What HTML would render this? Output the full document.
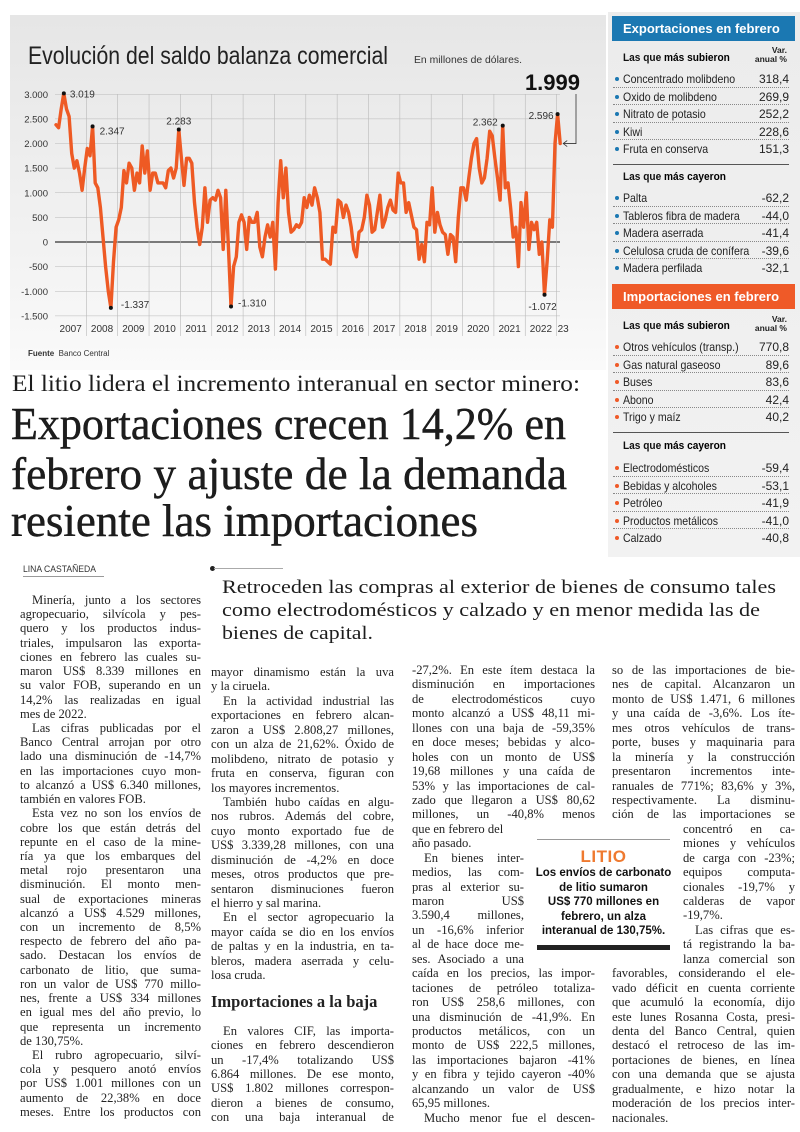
<!DOCTYPE html>
<html lang="es"><head><meta charset="utf-8">
<style>
*{margin:0;padding:0;box-sizing:border-box}
body{width:800px;height:1132px;background:#fff;position:relative;overflow:hidden;font-family:"Liberation Serif",serif;color:#1d1d1d}
.abs{position:absolute;white-space:nowrap}
.fit{display:inline-block;transform-origin:0 50%}
#chartbg{position:absolute;left:10px;top:15px;width:596px;height:355px;background:linear-gradient(#e6e6e6,#f3f3f3 70%,#fafafa)}
#side{position:absolute;left:608px;top:12px;width:192px;height:545px;background:linear-gradient(#ececec,#f2f2f2)}
.sans{font-family:"Liberation Sans Narrow","Liberation Sans",sans-serif}
.hdr{position:absolute;left:612px;width:183px;height:25px;color:#fff;font:bold 13px "Liberation Sans",sans-serif;padding:5px 0 0 11px}
.sub{position:absolute;left:623px;font:bold 11px "Liberation Sans",sans-serif;color:#111;transform:scaleX(.92);transform-origin:0 50%}
.sub b{font-weight:bold;color:#000}
.var{position:absolute;left:750px;width:37px;text-align:right;font:bold 8.5px/9px "Liberation Sans Narrow","Liberation Sans",sans-serif;color:#222}
.list{position:absolute;left:613px;width:176px;height:88px}
.row{position:absolute;left:0;width:176px;height:17.5px;border-bottom:1px dotted #888;font:12px "Liberation Sans Narrow","Liberation Sans",sans-serif;color:#222}
.row .n{position:absolute;left:10px;top:2px;transform:scaleX(.88);transform-origin:0 50%;white-space:nowrap}
.row .v{position:absolute;right:0;top:2px}
.row .b{position:absolute;left:2px;top:7px;width:4px;height:4px;border-radius:50%}
.row.last{border-bottom:none}
.col{position:absolute;font-size:12.6px;color:#222}
.l{text-align:justify;text-align-last:justify;white-space:normal;overflow:hidden}
.l.e{text-align-last:left}
.l.i{text-indent:12px}
.hl{-webkit-text-stroke:0.4px #111}
</style></head><body>

<div id="chartbg"></div>
<div id="side"></div>

<svg id="chart" width="610" height="370" style="position:absolute;left:0;top:0"></svg>

<div class="abs sans" style="left:28px;top:42px;font-size:25px;color:#222"><span class="fit" data-fit="360">Evolución del saldo balanza comercial</span></div>
<div class="abs sans" style="left:414px;top:54px;font-size:10.5px;color:#333"><span class="fit" data-fit="108">En millones de dólares.</span></div>
<div class="abs" style="left:28px;top:349px;font:8px 'Liberation Sans Narrow','Liberation Sans',sans-serif;color:#333"><b>Fuente</b>&nbsp; Banco Central</div>

<!-- Sidebar -->
<div class="hdr" style="top:16px;background:#1b78b2">Exportaciones en febrero</div>
<div class="sub" style="top:52px">Las que <b>más subieron</b></div>
<div class="var" style="top:46px">Var.<br>anual %</div>
<div style="position:absolute;left:613px;top:164px;width:176px;height:1px;background:#555"></div>
<div class="sub" style="top:171px">Las que <b>más cayeron</b></div>
<div class="hdr" style="top:284px;background:#ef5a28">Importaciones en febrero</div>
<div class="sub" style="top:320px">Las que <b>más subieron</b></div>
<div class="var" style="top:315px">Var.<br>anual %</div>
<div style="position:absolute;left:613px;top:432px;width:176px;height:1px;background:#555"></div>
<div class="sub" style="top:440px">Las que <b>más cayeron</b></div>

<div class="list" style="top:70px">
<div class="row" style="top:0"><span class="b" style="background:#1b78b2"></span><span class="n">Concentrado molibdeno</span><span class="v">318,4</span></div>
<div class="row" style="top:17.5px"><span class="b" style="background:#1b78b2"></span><span class="n">Oxido de molibdeno</span><span class="v">269,9</span></div>
<div class="row" style="top:35px"><span class="b" style="background:#1b78b2"></span><span class="n">Nitrato de potasio</span><span class="v">252,2</span></div>
<div class="row" style="top:52.5px"><span class="b" style="background:#1b78b2"></span><span class="n">Kiwi</span><span class="v">228,6</span></div>
<div class="row last" style="top:70px"><span class="b" style="background:#1b78b2"></span><span class="n">Fruta en conserva</span><span class="v">151,3</span></div>
</div>
<div class="list" style="top:189px">
<div class="row" style="top:0"><span class="b" style="background:#1b78b2"></span><span class="n">Palta</span><span class="v">-62,2</span></div>
<div class="row" style="top:17.5px"><span class="b" style="background:#1b78b2"></span><span class="n">Tableros fibra de madera</span><span class="v">-44,0</span></div>
<div class="row" style="top:35px"><span class="b" style="background:#1b78b2"></span><span class="n">Madera aserrada</span><span class="v">-41,4</span></div>
<div class="row" style="top:52.5px"><span class="b" style="background:#1b78b2"></span><span class="n">Celulosa cruda de conífera</span><span class="v">-39,6</span></div>
<div class="row last" style="top:70px"><span class="b" style="background:#1b78b2"></span><span class="n">Madera perfilada</span><span class="v">-32,1</span></div>
</div>
<div class="list" style="top:338px">
<div class="row" style="top:0"><span class="b" style="background:#ef5a28"></span><span class="n">Otros vehículos (transp.)</span><span class="v">770,8</span></div>
<div class="row" style="top:17.5px"><span class="b" style="background:#ef5a28"></span><span class="n">Gas natural gaseoso</span><span class="v">89,6</span></div>
<div class="row" style="top:35px"><span class="b" style="background:#ef5a28"></span><span class="n">Buses</span><span class="v">83,6</span></div>
<div class="row" style="top:52.5px"><span class="b" style="background:#ef5a28"></span><span class="n">Abono</span><span class="v">42,4</span></div>
<div class="row last" style="top:70px"><span class="b" style="background:#ef5a28"></span><span class="n">Trigo y maíz</span><span class="v">40,2</span></div>
</div>
<div class="list" style="top:459px">
<div class="row" style="top:0"><span class="b" style="background:#ef5a28"></span><span class="n">Electrodomésticos</span><span class="v">-59,4</span></div>
<div class="row" style="top:17.5px"><span class="b" style="background:#ef5a28"></span><span class="n">Bebidas y alcoholes</span><span class="v">-53,1</span></div>
<div class="row" style="top:35px"><span class="b" style="background:#ef5a28"></span><span class="n">Petróleo</span><span class="v">-41,9</span></div>
<div class="row" style="top:52.5px"><span class="b" style="background:#ef5a28"></span><span class="n">Productos metálicos</span><span class="v">-41,0</span></div>
<div class="row last" style="top:70px"><span class="b" style="background:#ef5a28"></span><span class="n">Calzado</span><span class="v">-40,8</span></div>
</div>

<!-- Headlines -->
<div class="abs" style="left:12px;top:371px;font-size:23px;line-height:26px"><span class="fit" data-fit="568">El litio lidera el incremento interanual en sector minero:</span></div>
<div class="abs hl" style="left:11px;top:400px;font-size:45px;line-height:48px"><span class="fit" data-fit="555">Exportaciones crecen 14,2% en</span></div>
<div class="abs hl" style="left:11px;top:450px;font-size:45px;line-height:48px"><span class="fit" data-fit="556">febrero y ajuste de la demanda</span></div>
<div class="abs hl" style="left:11px;top:497px;font-size:45px;line-height:48px"><span class="fit" data-fit="467">resiente las importaciones</span></div>

<div class="abs sans" style="left:23px;top:564px;font-size:9.5px;color:#333;border-bottom:1px solid #999;padding-bottom:1px"><span class="fit" data-fit="73">LINA CASTAÑEDA</span></div>
<div style="position:absolute;left:210px;top:566px;width:5px;height:5px;border-radius:50%;background:#222"></div>
<div style="position:absolute;left:214px;top:568px;width:69px;height:1px;background:#aaa"></div>
<div class="abs" style="left:222px;top:576px;font-size:19px;line-height:24px"><span class="fit" data-fit="554">Retroceden las compras al exterior de bienes de consumo tales</span></div>
<div class="abs" style="left:222px;top:599px;font-size:19px;line-height:24px"><span class="fit" data-fit="538">como electrodomésticos y calzado y en menor medida las de</span></div>
<div class="abs" style="left:222px;top:622px;font-size:19px;line-height:24px"><span class="fit" data-fit="151">bienes de capital.</span></div>

<!-- Column 1 -->
<div class="col" style="left:20px;top:593px;width:181px;line-height:14.22px">
<div class="l i">Minería, junto a los sectores</div>
<div class="l">agropecuario, silvícola y pes-</div>
<div class="l">quero y los productos indus-</div>
<div class="l">triales, impulsaron las exporta-</div>
<div class="l">ciones en febrero las cuales su-</div>
<div class="l">maron US$ 8.339 millones en</div>
<div class="l">su valor FOB, superando en un</div>
<div class="l">14,2% las realizadas en igual</div>
<div class="l e">mes de 2022.</div>
<div class="l i">Las cifras publicadas por el</div>
<div class="l">Banco Central arrojan por otro</div>
<div class="l">lado una disminución de -14,7%</div>
<div class="l">en las importaciones cuyo mon-</div>
<div class="l">to alcanzó a US$ 6.340 millones,</div>
<div class="l e">también en valores FOB.</div>
<div class="l i">Esta vez no son los envíos de</div>
<div class="l">cobre los que están detrás del</div>
<div class="l">repunte en el caso de la mine-</div>
<div class="l">ría ya que los embarques del</div>
<div class="l">metal rojo presentaron una</div>
<div class="l">disminución. El monto men-</div>
<div class="l">sual de exportaciones mineras</div>
<div class="l">alcanzó a US$ 4.529 millones,</div>
<div class="l">con un incremento de 8,5%</div>
<div class="l">respecto de febrero del año pa-</div>
<div class="l">sado. Destacan los envíos de</div>
<div class="l">carbonato de litio, que suma-</div>
<div class="l">ron un valor de US$ 770 millo-</div>
<div class="l">nes, frente a US$ 334 millones</div>
<div class="l">en igual mes del año previo, lo</div>
<div class="l">que representa un incremento</div>
<div class="l e">de 130,75%.</div>
<div class="l i">El rubro agropecuario, silví-</div>
<div class="l">cola y pesquero anotó envíos</div>
<div class="l">por US$ 1.001 millones con un</div>
<div class="l">aumento de 22,38% en doce</div>
<div class="l">meses. Entre los productos con</div>
</div>

<!-- Column 2 -->
<div class="col" style="left:211px;top:665px;width:183px;line-height:14.45px">
<div class="l">mayor dinamismo están la uva</div>
<div class="l e">y la ciruela.</div>
<div class="l i">En la actividad industrial las</div>
<div class="l">exportaciones en febrero alcan-</div>
<div class="l">zaron a US$ 2.808,27 millones,</div>
<div class="l">con un alza de 21,62%. Óxido de</div>
<div class="l">molibdeno, nitrato de potasio y</div>
<div class="l">fruta en conserva, figuran con</div>
<div class="l e">los mayores incrementos.</div>
<div class="l i">También hubo caídas en algu-</div>
<div class="l">nos rubros. Además del cobre,</div>
<div class="l">cuyo monto exportado fue de</div>
<div class="l">US$ 3.339,28 millones, con una</div>
<div class="l">disminución de -4,2% en doce</div>
<div class="l">meses, otros productos que pre-</div>
<div class="l">sentaron disminuciones fueron</div>
<div class="l e">el hierro y sal marina.</div>
<div class="l i">En el sector agropecuario la</div>
<div class="l">mayor caída se dio en los envíos</div>
<div class="l">de paltas y en la industria, en ta-</div>
<div class="l">bleros, madera aserrada y celu-</div>
<div class="l e">losa cruda.</div>
<div style="font-weight:bold;font-size:16.5px;line-height:20px;margin:9px 0 12px 0">Importaciones a la baja</div>
<div class="l i">En valores CIF, las importa-</div>
<div class="l">ciones en febrero descendieron</div>
<div class="l">un -17,4% totalizando US$</div>
<div class="l">6.864 millones. De ese monto,</div>
<div class="l">US$ 1.802 millones correspon-</div>
<div class="l">dieron a bienes de consumo,</div>
<div class="l">con una baja interanual de</div>
</div>

<!-- Column 3 -->
<div class="col" style="left:412px;top:663px;width:183px;line-height:14.45px">
<div class="l">-27,2%. En este ítem destaca la</div>
<div class="l">disminución en importaciones</div>
<div class="l">de electrodomésticos cuyo</div>
<div class="l">monto alcanzó a US$ 48,11 mi-</div>
<div class="l">llones con una baja de -59,35%</div>
<div class="l">en doce meses; bebidas y alco-</div>
<div class="l">holes con un monto de US$</div>
<div class="l">19,68 millones y una caída de</div>
<div class="l">53% y las importaciones de cal-</div>
<div class="l">zado que llegaron a US$ 80,62</div>
<div class="l">millones, un -40,8% menos</div>
<div class="l e" style="width:112px">que en febrero del</div>
<div class="l e" style="width:112px">año pasado.</div>
<div class="l i" style="width:112px">En bienes inter-</div>
<div class="l" style="width:112px">medios, las com-</div>
<div class="l" style="width:112px">pras al exterior su-</div>
<div class="l" style="width:112px">maron US$</div>
<div class="l" style="width:112px">3.590,4 millones,</div>
<div class="l" style="width:112px">un -16,6% inferior</div>
<div class="l" style="width:112px">al de hace doce me-</div>
<div class="l" style="width:112px">ses. Asociado a una</div>
<div class="l">caída en los precios, las impor-</div>
<div class="l">taciones de petróleo totaliza-</div>
<div class="l">ron US$ 258,6 millones, con</div>
<div class="l">una disminución de -41,9%. En</div>
<div class="l">productos metálicos, con un</div>
<div class="l">monto de US$ 222,5 millones,</div>
<div class="l">las importaciones bajaron -41%</div>
<div class="l">y en fibra y tejido cayeron -40%</div>
<div class="l">alcanzando un valor de US$</div>
<div class="l e">65,95 millones.</div>
<div class="l i">Mucho menor fue el descen-</div>
</div>

<!-- Column 4 -->
<div class="col" style="left:612px;top:663px;width:183px;line-height:14.45px">
<div class="l">so de las importaciones de bie-</div>
<div class="l">nes de capital. Alcanzaron un</div>
<div class="l">monto de US$ 1.471, 6 millones</div>
<div class="l">y una caída de -3,6%. Los íte-</div>
<div class="l">mes otros vehículos de trans-</div>
<div class="l">porte, buses y maquinaria para</div>
<div class="l">la minería y la construcción</div>
<div class="l">presentaron incrementos inte-</div>
<div class="l">ranuales de 771%; 83,6% y 3%,</div>
<div class="l">respectivamente. La disminu-</div>
<div class="l">ción de las importaciones se</div>
<div class="l" style="margin-left:71px;width:112px">concentró en ca-</div>
<div class="l" style="margin-left:71px;width:112px">miones y vehículos</div>
<div class="l" style="margin-left:71px;width:112px">de carga con -23%;</div>
<div class="l" style="margin-left:71px;width:112px">equipos computa-</div>
<div class="l" style="margin-left:71px;width:112px">cionales -19,7% y</div>
<div class="l" style="margin-left:71px;width:112px">calderas de vapor</div>
<div class="l e" style="margin-left:71px;width:112px">-19,7%.</div>
<div class="l i" style="margin-left:71px;width:112px">Las cifras que es-</div>
<div class="l" style="margin-left:71px;width:112px">tá registrando la ba-</div>
<div class="l" style="margin-left:71px;width:112px">lanza comercial son</div>
<div class="l">favorables, considerando el ele-</div>
<div class="l">vado déficit en cuenta corriente</div>
<div class="l">que acumuló la economía, dijo</div>
<div class="l">este lunes Rosanna Costa, presi-</div>
<div class="l">denta del Banco Central, quien</div>
<div class="l">destacó el retroceso de las im-</div>
<div class="l">portaciones de bienes, en línea</div>
<div class="l">con una demanda que se ajusta</div>
<div class="l">gradualmente, e hizo notar la</div>
<div class="l">moderación de los precios inter-</div>
<div class="l e">nacionales.</div>
</div>

<!-- Litio box -->
<div style="position:absolute;left:537px;top:839px;width:133px;height:112px">
<div style="position:absolute;left:0;top:0;width:133px;height:1px;background:#999"></div>
<div style="position:absolute;left:0;top:8px;width:133px;text-align:center;font:bold 17px 'Liberation Sans',sans-serif;color:#ef7a30;letter-spacing:0.5px">LITIO</div>
<div style="position:absolute;left:-4px;top:27px;width:141px;text-align:center;font:bold 11.5px/14.5px 'Liberation Sans Narrow','Liberation Sans',sans-serif;color:#111">Los envíos de carbonato<br>de litio sumaron<br>US$ 770 millones en<br>febrero, un alza<br>interanual de 130,75%.</div>
<div style="position:absolute;left:0;top:106px;width:133px;height:5px;background:#222"></div>
</div>

<script>
// ---- chart data ----
const yearLabels=['2007','2008','2009','2010','2011','2012','2013','2014','2015','2016','2017','2018','2019','2020','2021','2022','23'];
const yTicks=[3000,2500,2000,1500,1000,500,0,-500,-1000,-1500];
const yTickLabels=['3.000','2.500','2.000','1.500','1.000','500','0','-500','-1.000','-1.500'];
const balance=[
2380,2320,2700,3019,2700,2550,1800,1500,1650,1400,1050,1500,
1900,1750,2347,1200,1100,700,100,-500,-1000,-1337,-400,300,
450,700,1450,1200,1600,1500,1050,1400,1200,1950,1400,1850,
1050,1400,1400,1200,1200,1200,1100,1450,1500,1300,1500,2283,
1700,1150,1700,1700,1600,800,300,-50,300,1100,400,850,
900,850,1050,900,-150,1050,-100,-1310,-500,-300,400,550,
400,-150,500,400,400,600,-100,-300,100,350,100,400,
-550,800,1650,900,1500,600,200,250,350,300,400,900,
700,950,750,1100,900,600,-350,-350,-400,-450,300,200,
850,800,500,750,600,300,-150,-300,200,250,500,950,
750,200,250,600,950,300,450,700,850,650,600,1400,
1200,1200,600,800,550,300,250,-350,-50,-400,400,350,
1100,200,600,350,200,150,-250,150,100,-400,500,1100,
1100,850,1300,1700,2000,2100,1500,1200,1300,1700,2250,2150,
1700,1300,850,2362,1100,1200,700,100,300,-500,800,300,
1000,-150,400,250,400,-250,0,-1072,-400,450,300,2000,
2596,1999];
const annotIdx=[3,14,21,47,67,171,187,192];

const NS='http://www.w3.org/2000/svg';
const svg=document.getElementById('chart');
const X0=55,YR=31.35;
const yOf=v=>242-v*0.04925;
function px(i){return X0+1+i*2.6125;}
function mk(tag,attrs,name){const e=document.createElementNS(NS,tag);for(const k in attrs)e.setAttribute(k,attrs[k]);


svg.appendChild(e);return e;}
yTicks.forEach((t,k)=>{
  mk('line',{x1:55,x2:560,y1:yOf(t),y2:yOf(t),stroke:t===0?'#333':'#b9b9b9','stroke-width':t===0?1.3:0.6},'gridline-y');
  const tx=mk('text',{x:48,y:yOf(t)+3.5,'text-anchor':'end','font-size':'9.5','font-family':'Liberation Sans, sans-serif',fill:'#333'},'y-tick-label');
  tx.textContent=yTickLabels[k];
});
yearLabels.forEach((lab,k)=>{
  if(k>0) mk('line',{x1:X0+k*YR,x2:X0+k*YR,y1:yOf(3000),y2:336,stroke:'#b9b9b9','stroke-width':0.6},'gridline-x');
  const last=k===yearLabels.length-1;
  const t=mk('text',{x:last?X0+k*YR+1:X0+(k+0.5)*YR,y:332,'text-anchor':last?'start':'middle','font-size':'10','font-family':'Liberation Sans Narrow, Liberation Sans, sans-serif',fill:'#333'},'x-tick-label');
  t.textContent=lab;
});
const pts=balance.map((v,i)=>px(i).toFixed(1)+','+yOf(v).toFixed(1)).join(' ');
mk('polyline',{points:pts,fill:'none',stroke:'#ee5a24','stroke-width':3.4,'stroke-linejoin':'round','stroke-linecap':'round'},'balance-line');
const fmt=v=>(v<0?'-':'')+Math.abs(v).toString().replace(/\B(?=(\d{3})+(?!\d))/g,'.');
const annOff=[[6,1,'start'],[7,5,'start'],[10,-3,'start'],[0,-8,'middle'],[7,-3,'start'],[-5,-3,'end'],[-2,12,'middle'],[-4,2,'end']];
annotIdx.forEach((i,k)=>{
  const x=px(i),y=yOf(balance[i]);
  mk('circle',{cx:x,cy:y,r:2,fill:'#111'},'annotation-dot');
  const o=annOff[k];
  const t=mk('text',{x:x+o[0],y:y+o[1]+3,'text-anchor':o[2],'font-size':'10','font-family':'Liberation Sans, sans-serif',fill:'#333'},'annotation-label');
  t.textContent=fmt(balance[i]);
});
const li=balance.length-1;
const big=mk('text',{x:580,y:90,'text-anchor':'end','font-size':'22','font-weight':'bold','font-family':'Liberation Sans, sans-serif',fill:'#111'},'latest-value');
big.textContent=fmt(balance[li]);
mk('polyline',{points:`576,94 576,${yOf(balance[li])} ${px(li)+3},${yOf(balance[li])}`,fill:'none',stroke:'#333','stroke-width':0.8},'latest-connector');
mk('polyline',{points:`${px(li)+7},${yOf(balance[li])-3} ${px(li)+3},${yOf(balance[li])} ${px(li)+7},${yOf(balance[li])+3}`,fill:'none',stroke:'#333','stroke-width':0.8},'latest-arrow');

document.querySelectorAll('[data-fit]').forEach(e=>{const w=e.getBoundingClientRect().width;const t=+e.getAttribute('data-fit');if(w>0)e.style.transform='scaleX('+(t/w)+')';});
document.querySelectorAll('.l').forEach(e=>{
  const lh=parseFloat(getComputedStyle(e.parentNode).lineHeight);
  let ls=0;
  while(e.scrollHeight>lh*1.5&&ls>-1.2){ls-=0.1;e.style.letterSpacing=ls+'px';}
  e.style.height=lh+'px';
});
</script>
</body></html>
